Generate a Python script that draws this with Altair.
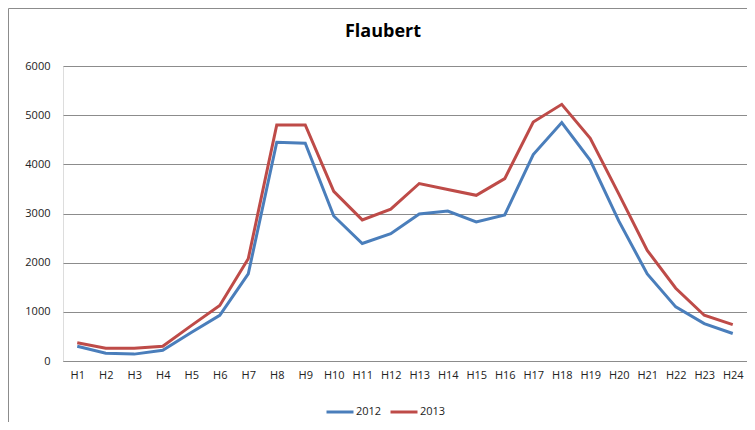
import altair as alt
import pandas as pd

hours = [f"H{i}" for i in range(1, 25)]
v2012 = [300, 160, 140, 220, 580, 930, 1770, 4450, 4430, 2950, 2390, 2590,
         2990, 3050, 2830, 2970, 4200, 4850, 4080, 2850, 1770, 1100, 760, 560]
v2013 = [370, 260, 260, 300, 720, 1130, 2080, 4800, 4800, 3450, 2870, 3090,
         3610, 3490, 3370, 3710, 4860, 5220, 4530, 3400, 2250, 1480, 930, 740]
series = ["2012", "2013"]
colors = ["#4A7EBB", "#BE4B48"]

rows = []
for h, a, b in zip(hours, v2012, v2013):
    rows.append({"hour": h, "year": series[0], "value": a})
    rows.append({"hour": h, "year": series[1], "value": b})
df = pd.DataFrame(rows)

FONT = "Open Sans"
GRID = "#8c8c8c"

lines = alt.Chart(df).mark_line(strokeWidth=3).encode(
    x=alt.X("hour:N", sort=hours, scale=alt.Scale(type="point", padding=0.5),
            axis=alt.Axis(title=None, labelAngle=0, ticks=False, labelPadding=8,
                          domainColor=GRID, domainWidth=1, grid=False,
                          labelFont=FONT, labelFontSize=11, labelColor="#222")),
    y=alt.Y("value:Q", scale=alt.Scale(domain=[0, 6000], nice=False),
            axis=alt.Axis(title=None, values=[0, 1000, 2000, 3000, 4000, 5000, 6000],
                          format="d", ticks=False, domain=False, labelPadding=13,
                          gridColor=GRID, gridWidth=1,
                          labelFont=FONT, labelFontSize=11, labelColor="#222")),
    color=alt.Color("year:N", scale=alt.Scale(domain=series, range=colors),
                    legend=alt.Legend(title=None, orient="none", direction="horizontal",
                                      legendX=262, legendY=331,
                                      symbolType="stroke", symbolSize=729,
                                      symbolStrokeWidth=3, labelOffset=1,
                                      columnPadding=2,
                                      labelFont=FONT, labelFontSize=11,
                                      labelColor="#222")),
)

frame = alt.Data(values=[{"k": 1}])
left_border = alt.Chart(frame).mark_rule(color=GRID, strokeWidth=1).encode(
    x=alt.value(-54.5), y=alt.value(-57.5), y2=alt.value(360))
top_border = alt.Chart(frame).mark_rule(color=GRID, strokeWidth=1).encode(
    x=alt.value(-54.5), x2=alt.value(700), y=alt.value(-57.5))

chart = alt.layer(left_border, top_border, lines).properties(
    width=684, height=295,
    title=alt.TitleParams("Flaubert", font=FONT, fontSize=18, fontWeight="bold",
                          color="#000", anchor="middle", dx=-22, offset=-47,
                          baseline="alphabetic"),
    autosize=alt.AutoSizeParams(type="none"),
    padding={"left": 55, "top": 58, "right": 0, "bottom": 61},
).configure_view(stroke=None).configure(background="white")

chart.save("out.html", embed_options={"renderer": "svg", "actions": False})
